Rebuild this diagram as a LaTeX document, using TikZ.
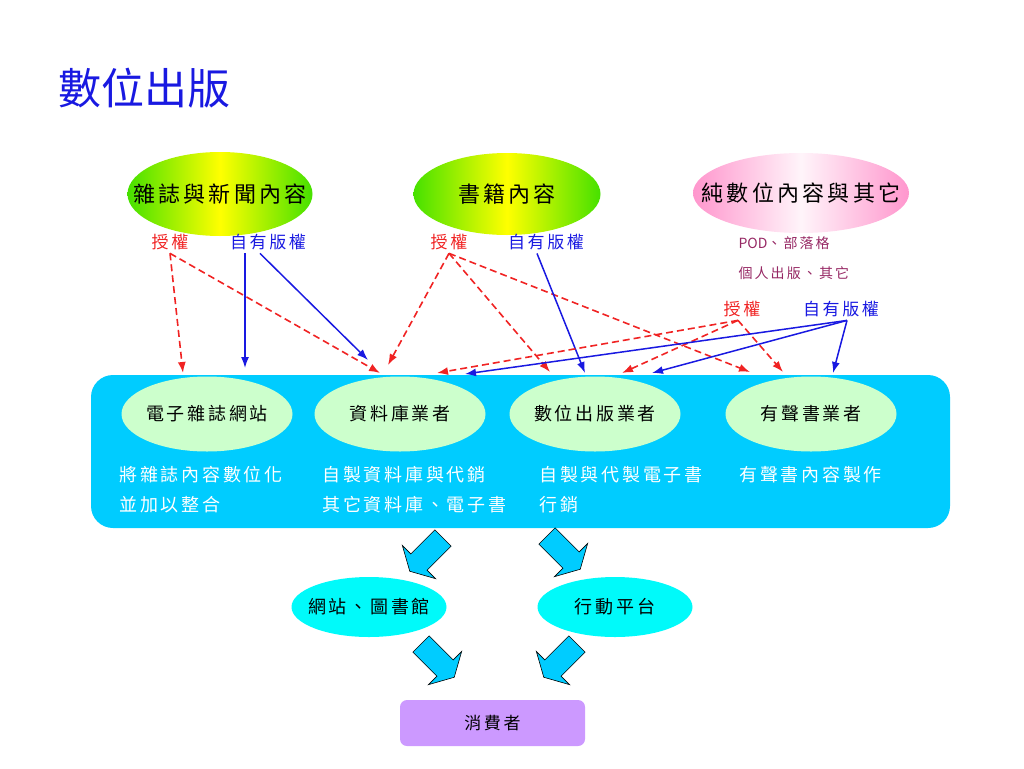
\documentclass[tikz,border=0pt]{standalone}
\usepackage{fontspec}
\setmainfont[LetterSpace=15]{Noto Sans CJK TC}
\newfontfamily\titlefont{Noto Sans CJK TC}
\usetikzlibrary{shapes.geometric}
\usetikzlibrary{arrows.meta}
\definecolor{panelblue}{RGB}{0,204,255}
\definecolor{leafgreen}{RGB}{70,225,0}
\definecolor{rosepink}{RGB}{255,150,205}
\definecolor{paleleaf}{RGB}{204,255,204}
\definecolor{aqua}{RGB}{0,250,250}
\definecolor{lilac}{RGB}{204,153,255}
\definecolor{grantred}{RGB}{240,35,35}
\definecolor{ownblue}{RGB}{25,25,225}
\definecolor{plum}{RGB}{150,40,100}
\tikzset{
	oval/.style = {ellipse, inner xsep=-30pt, inner ysep=0pt, text centered},
	srcgreen/.style = {oval, left color=leafgreen, right color=leafgreen,
		middle color=yellow, font=\fontsize{22}{26}\selectfont},% contenu vert
	srcpink/.style = {oval, left color=rosepink, right color=rosepink,
		middle color=white!90!rosepink, font=\fontsize{22}{26}\selectfont},% contenu rose
	grant/.style = {text=grantred, font=\fontsize{17}{20}\selectfont},
	owned/.style = {text=ownblue, font=\fontsize{17}{20}\selectfont},
	note/.style = {text=plum, font=\fontsize{14}{16}\selectfont},
	panel/.style = {rectangle, rounded corners=22pt, fill=panelblue,
		minimum width=859pt, minimum height=153pt},
	biz/.style = {oval, fill=paleleaf, minimum width=171pt, minimum height=75pt,
		font=\fontsize{18}{20}\selectfont},% editeurs
	desc/.style = {anchor=west, text=white, font=\fontsize{18}{20}\selectfont},
	outlet/.style = {oval, fill=aqua, minimum width=155pt, minimum height=60pt,
		font=\fontsize{18}{20}\selectfont},
	buyer/.style = {rectangle, rounded corners=7pt, fill=lilac,
		minimum width=185pt, minimum height=46pt, font=\fontsize{17}{20}\selectfont},
	grantline/.style = {->, grantred, line width=1.6pt, dash pattern=on 7pt off 4pt},
	ownline/.style = {->, ownblue, line width=1.5pt},
	fatarrow/.pic = {
		\draw[fill=panelblue, draw=black, line width=0.6pt, line join=miter]
			(0,-11.5) -- (34,-11.5) -- (34,-23.5) -- (47,0) -- (34,23.5)
			-- (34,11.5) -- (0,11.5) -- cycle;
	}
}
\begin{document}
\begin{tikzpicture}[x=1pt,y=-1pt,>={Latex[length=11pt,width=8pt]}]
	\useasboundingbox (0,0) rectangle (1024,768);
	\node[anchor=west, text=ownblue, font=\fontsize{43}{48}\titlefont]
		(ttl) at (55,88) {數位出版};
	% sources
	\node[srcgreen, minimum width=185pt, minimum height=84pt] (mag) at (220,194) {雜誌與新聞內容};
	\node[srcgreen, minimum width=187pt, minimum height=82pt] (book) at (507,194) {書籍內容};
	\node[srcpink, minimum width=216pt, minimum height=80pt] (pure) at (801,193) {純數位內容與其它};
	\node[grant] (g1) at (170,242) {授權};
	\node[owned] (o1) at (268,242) {自有版權};
	\node[grant] (g2) at (449,242) {授權};
	\node[owned] (o2) at (546,242) {自有版權};
	\node[note, anchor=west] (pod) at (735,243) {{\titlefont POD}、部落格};
	\node[note, anchor=west] (self) at (735,273) {個人出版、其它};
	\node[grant] (g3) at (742,309) {授權};
	\node[owned] (o3) at (841,309) {自有版權};
	% editeurs
	\node[panel] (box) at (520.5,451.5) {};
	\node[biz] (ezine) at (207,414) {電子雜誌網站};
	\node[biz] (dbase) at (400,414) {資料庫業者};
	\node[biz] (epub) at (595,414) {數位出版業者};
	\node[biz] (audio) at (811,414) {有聲書業者};
	\node[desc] (d1) at (116,475) {將雜誌內容數位化};
	\node[desc] (d1b) at (116,505) {並加以整合};
	\node[desc] (d2) at (319,475) {自製資料庫與代銷};
	\node[desc] (d2b) at (319,505) {其它資料庫、電子書};
	\node[desc] (d3) at (536,475) {自製與代製電子書};
	\node[desc] (d3b) at (536,505) {行銷};
	\node[desc] (d4) at (736,475) {有聲書內容製作};
	% points d'arrivee
	\coordinate (t1) at (183,373);
	\coordinate (t2) at (245,368);
	\coordinate (t3) at (368,360);
	\coordinate (t4) at (380,373);
	\coordinate (t5) at (388,365);
	\coordinate (t6) at (437,373);
	\coordinate (t7) at (465,374);
	\coordinate (t8) at (550,372);
	\coordinate (t9) at (585,373);
	\coordinate (t10) at (622,373);
	\coordinate (t11) at (652,373);
	\coordinate (t12) at (750,372);
	\coordinate (t13) at (783,372);
	\coordinate (t14) at (833,373);
	\foreach \t in {t1,t4}
		\draw[grantline] (g1.south) -- (\t);
	\draw[ownline] ([xshift=-23pt]o1.south) -- (t2);
	\draw[ownline] ([xshift=-8pt]o1.south) -- (t3);
	\foreach \t in {t5,t8,t12}
		\draw[grantline] (g2.south) -- (\t);
	\draw[ownline] ([xshift=-9pt]o2.south) -- (t9);
	\foreach \t in {t6,t10,t13}
		\draw[grantline] ([xshift=-4pt]g3.south) -- (\t);
	\foreach \t in {t7,t11,t14}
		\draw[ownline] ([xshift=6pt]o3.south) -- (\t);
	% diffusion
	\node[outlet] (web) at (369,607) {網站、圖書館};
	\node[outlet] (mobile) at (615,607) {行動平台};
	\node[buyer] (user) at (492.5,723) {消費者};
	\pic[rotate=225] at (443,538) {fatarrow};
	\pic[rotate=-45] at (547,536) {fatarrow};
	\pic[rotate=-45] at (421,644) {fatarrow};
	\pic[rotate=225] at (577,644) {fatarrow};
\end{tikzpicture}
\end{document}
